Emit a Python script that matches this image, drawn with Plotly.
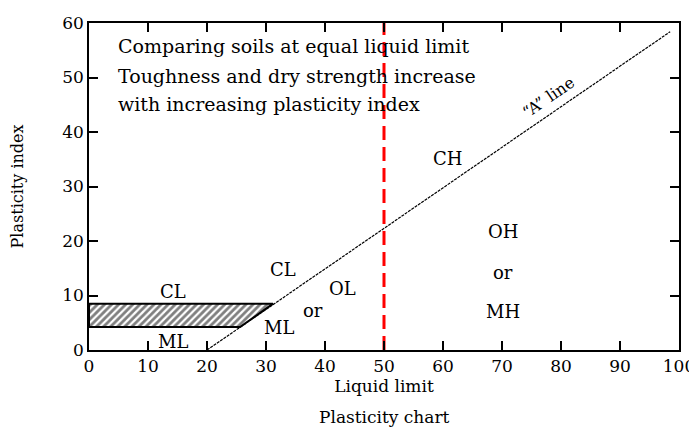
import plotly.graph_objects as go

# A-line (Liquid limit, Plasticity index)
a_line_ll = [20, 98.5]
a_line_pi = [0, 58.4]

# hatched CL-ML zone
hatch_ll = [0, 31.2, 25.6, 0, 0]
hatch_pi = [8.5, 8.5, 4.2, 4.2, 8.5]

# vertical reference at LL = 50
ref_ll = [50, 50]
ref_pi = [0, 60]

# zone labels
zone_text = ["CL", "CL", "ML", "ML", "or", "OL", "CH", "OH", "or", "MH"]
zone_ll = [32.9, 14.2, 14.2, 32.2, 38.0, 43.0, 60.7, 70.2, 70.2, 70.2]
zone_pi = [14.7, 10.8, 1.6, 4.2, 7.3, 11.2, 35.2, 21.7, 14.3, 7.0]

note_lines = ["Comparing soils at equal liquid limit",
              "Toughness and dry strength increase",
              "with increasing plasticity index"]
note_pi = [55.8, 50.3, 45.1]

x_ticks = list(range(0, 101, 10))
y_ticks = list(range(0, 61, 10))

FONT = "DejaVu Serif"

fig = go.Figure()
fig.add_trace(go.Scatter(x=hatch_ll, y=hatch_pi, mode="lines", fill="toself",
                         fillcolor="white",
                         fillpattern=dict(shape="/", size=5, solidity=0.55,
                                          fgcolor="black", bgcolor="white"),
                         line=dict(color="black", width=2), hoverinfo="skip"))
fig.add_trace(go.Scatter(x=a_line_ll, y=a_line_pi, mode="lines",
                         line=dict(color="black", width=1.2, dash="3px,1px")))
fig.add_trace(go.Scatter(x=ref_ll, y=ref_pi, mode="lines",
                         line=dict(color="red", width=3, dash="14px,7px")))

for t, x, y in zip(zone_text, zone_ll, zone_pi):
    fig.add_annotation(x=x, y=y, text=t, showarrow=False,
                       font=dict(family=FONT, size=18, color="black"))
for t, y in zip(note_lines, note_pi):
    fig.add_annotation(x=4.6, y=y, text=t, showarrow=False, xanchor="left",
                       font=dict(family=FONT, size=19, color="black"))
fig.add_annotation(x=77.8, y=46.4, text="\u201cA\u201d line", showarrow=False,
                   textangle=-34.5, font=dict(family=FONT, size=16, color="black"))
fig.add_annotation(x=0.5, xref="paper", y=-0.205, yref="paper", yanchor="middle",
                   text="Plasticity chart", showarrow=False,
                   font=dict(family=FONT, size=17, color="black"))
fig.add_annotation(x=-0.14, xref="paper", y=0.5, yref="paper", textangle=-90,
                   text="Plasticity index", showarrow=False,
                   font=dict(family=FONT, size=16, color="black"))

axis_common = dict(showline=True, linecolor="black", linewidth=1.5, mirror="ticks",
                   ticks="inside", ticklen=9, tickwidth=1.5, tickcolor="black",
                   showgrid=False, zeroline=False, automargin=False,
                   tickfont=dict(family=FONT, size=17, color="black"))
fig.update_xaxes(range=[0, 100], tickvals=x_ticks, **axis_common,
                 title=dict(text="Liquid limit", standoff=2,
                            font=dict(family=FONT, size=17, color="black")))
fig.update_yaxes(range=[0, 60], tickvals=y_ticks, **axis_common)

# page body has an 8px margin, so the figure is sized and offset to compensate
fig.update_layout(width=689, height=422, showlegend=False,
                  margin=dict(l=81, r=18, t=15, b=80),
                  plot_bgcolor="white", paper_bgcolor="white")
fig.write_html("out.html")
